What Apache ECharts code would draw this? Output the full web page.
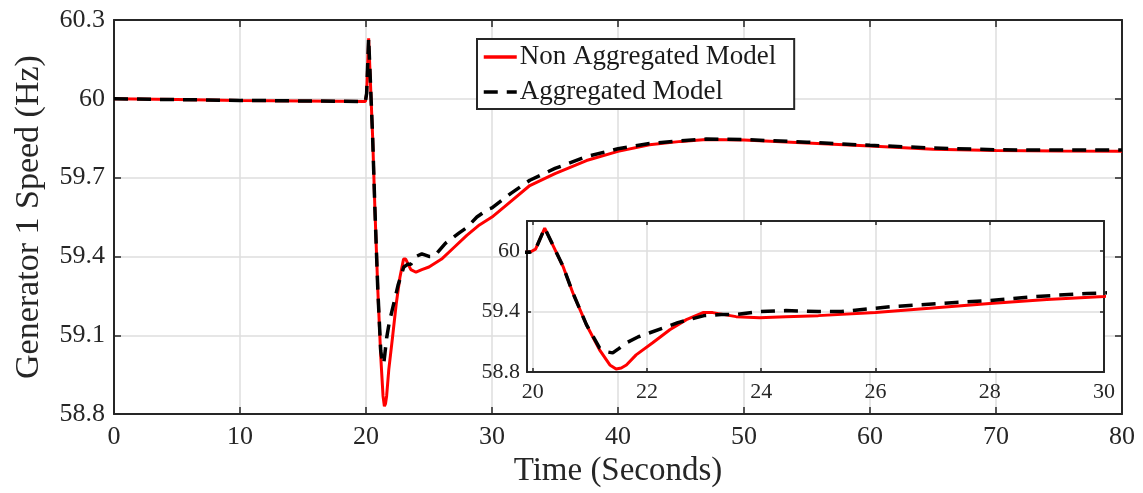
<!DOCTYPE html>
<html>
<head>
<meta charset="utf-8">
<script src="https://cdn.jsdelivr.net/npm/echarts@6/dist/echarts.min.js"></script>
<style>html,body{margin:0;padding:0;background:#fff}#c{width:1143px;height:493px}</style>
</head>
<body>
<div id="c"></div>
<script>
// Non Aggregated Model (red)
const tNon = [0, 5, 10, 15, 19.95, 20.05, 20.21, 20.53, 20.7, 20.94, 21.17, 21.35, 21.46, 21.55, 21.64, 21.81, 22.1, 22.4, 22.69, 22.98, 23.15, 23.56, 23.97, 24.43, 25, 26, 27, 28, 29, 30, 31.5, 33, 35, 37.5, 40, 42.5, 45, 47, 50, 55, 60, 65, 70, 75, 80];
const vNon = [60.0, 59.997, 59.994, 59.992, 59.99, 60.02, 60.23, 59.85, 59.59, 59.27, 59.02, 58.87, 58.83, 58.84, 58.87, 58.97, 59.09, 59.22, 59.32, 59.39, 59.39, 59.35, 59.34, 59.35, 59.36, 59.39, 59.435, 59.48, 59.52, 59.55, 59.61, 59.67, 59.715, 59.765, 59.80, 59.825, 59.838, 59.845, 59.843, 59.832, 59.82, 59.808, 59.803, 59.801, 59.80];
// Aggregated Model (black dashed)
const tAgg = [0, 5, 10, 15, 19.95, 20.05, 20.21, 20.53, 20.7, 20.94, 21.17, 21.3, 21.4, 21.5, 21.64, 21.85, 22.05, 22.3, 22.54, 22.8, 23.0, 23.3, 23.56, 23.97, 24.43, 25, 25.4, 26.3, 27.4, 28, 28.8, 29.7, 30, 31.5, 33, 35, 37.5, 40, 42.5, 45, 47, 50, 55, 60, 65, 70, 75, 80];
const vAgg = [60.0, 59.997, 59.994, 59.992, 59.99, 60.02, 60.23, 59.85, 59.59, 59.27, 59.04, 59.0, 58.99, 59.03, 59.09, 59.15, 59.19, 59.24, 59.29, 59.33, 59.36, 59.37, 59.37, 59.40, 59.41, 59.40, 59.40, 59.45, 59.49, 59.51, 59.55, 59.58, 59.585, 59.64, 59.69, 59.735, 59.78, 59.81, 59.83, 59.84, 59.847, 59.845, 59.835, 59.823, 59.813, 59.806, 59.805, 59.805];
// Inset tick labels
const insetXTicks = [20, 22, 24, 26, 28, 30];
const insetYTicks = [58.8, 59.4, 60];

const FONT = 'Liberation Serif';
const AX = '#262626';
const GRIDC = '#dedede';
const nonPairs = tNon.map((t, i) => [t, vNon[i]]);
const aggPairs = tAgg.map((t, i) => [t, vAgg[i]]);
const fmt = v => String(parseFloat(Number(v).toFixed(1)));

function axisBase(extra) {
  return Object.assign({
    type: 'value',
    axisLine: { show: true, onZero: false, lineStyle: { color: AX, width: 2 } },
    axisTick: { show: true, inside: true, length: 7, lineStyle: { color: AX, width: 1.5 } },
    axisLabel: { show: false },
    splitLine: { show: false }
  }, extra);
}

const chart = echarts.init(document.getElementById('c'), null, { renderer: 'canvas' });
chart.setOption({
  animation: false,
  backgroundColor: '#fff',
  grid: [
    { left: 114, right: 21, top: 20, bottom: 75, show: true, backgroundColor: '#fff', borderWidth: 0, z: 0 },
    { left: 527, right: 39, top: 221, bottom: 121, show: true, backgroundColor: '#fff', borderWidth: 0, z: 5 }
  ],
  legend: {
    data: ['Non Aggregated Model', 'Aggregated Model'],
    orient: 'vertical',
    left: 477, top: 39,
    padding: [3, 18, 2, 5],
    itemGap: 5,
    itemWidth: 33, itemHeight: 14,
    itemStyle: { opacity: 0 },
    lineStyle: { width: 3.5 },
    backgroundColor: '#fff',
    borderColor: AX, borderWidth: 2, borderRadius: 0,
    textStyle: { fontFamily: FONT, fontSize: 27, color: '#1a1a1a', lineHeight: 30, padding: [0, 0, 0, -2] },
    z: 20
  },
  xAxis: [
    axisBase({
      gridIndex: 0, position: 'bottom', min: 0, max: 80, interval: 10,
      axisLabel: { show: true, fontFamily: FONT, fontSize: 26, color: AX, margin: 10 },
      splitLine: { show: true, lineStyle: { color: GRIDC, width: 1.5 } },
      name: 'Time (Seconds)', nameLocation: 'middle', nameGap: 37,
      nameTextStyle: { fontFamily: FONT, fontSize: 33, color: AX }
    }),
    axisBase({ gridIndex: 0, position: 'top', min: 0, max: 80, interval: 10 }),
    axisBase({
      gridIndex: 1, position: 'bottom', min: 19.9, max: 30, z: 6,
      axisTick: { show: true, inside: true, length: 4, customValues: insetXTicks, lineStyle: { color: AX, width: 1.5 } },
      axisLabel: { show: true, customValues: insetXTicks, fontFamily: FONT, fontSize: 22, color: AX, margin: 9 },
      splitLine: { show: true, lineStyle: { color: GRIDC, width: 1.5 } }
    }),
    axisBase({
      gridIndex: 1, position: 'top', min: 19.9, max: 30, z: 6,
      axisTick: { show: true, inside: true, length: 4, customValues: insetXTicks, lineStyle: { color: AX, width: 1.5 } }
    })
  ],
  yAxis: [
    axisBase({
      gridIndex: 0, position: 'left', min: 58.8, max: 60.3, interval: 0.3,
      axisLabel: { show: true, fontFamily: FONT, fontSize: 26, color: AX, margin: 9, formatter: fmt },
      splitLine: { show: true, lineStyle: { color: GRIDC, width: 1.5 } },
      name: 'Generator 1 Speed (Hz)', nameLocation: 'middle', nameGap: 68, nameRotate: 90,
      nameTextStyle: { fontFamily: FONT, fontSize: 34, color: AX }
    }),
    axisBase({ gridIndex: 0, position: 'right', min: 58.8, max: 60.3, interval: 0.3 }),
    axisBase({
      gridIndex: 1, position: 'left', min: 58.8, max: 60.3, z: 6,
      axisTick: { show: true, inside: true, length: 4, customValues: insetYTicks, lineStyle: { color: AX, width: 1.5 } },
      axisLabel: { show: true, customValues: insetYTicks, fontFamily: FONT, fontSize: 22, color: AX, margin: 7, formatter: fmt },
      splitLine: { show: true, lineStyle: { color: GRIDC, width: 1.5 } }
    }),
    axisBase({
      gridIndex: 1, position: 'right', min: 58.8, max: 60.3, z: 6,
      axisTick: { show: true, inside: true, length: 4, customValues: insetYTicks, lineStyle: { color: AX, width: 1.5 } }
    })
  ],
  series: [
    { name: 'Non Aggregated Model', type: 'line', xAxisIndex: 0, yAxisIndex: 0, data: nonPairs, symbol: 'none',
      lineStyle: { color: '#ff0000', width: 3 }, itemStyle: { color: '#ff0000' }, z: 2 },
    { name: 'Aggregated Model', type: 'line', xAxisIndex: 0, yAxisIndex: 0, data: aggPairs, symbol: 'none',
      lineStyle: { color: '#000', width: 3.5, type: [14, 9] }, itemStyle: { color: '#000' }, z: 3 },
    { name: 'Non Aggregated Model', type: 'line', xAxisIndex: 2, yAxisIndex: 2, data: nonPairs, symbol: 'none',
      lineStyle: { color: '#ff0000', width: 3 }, itemStyle: { color: '#ff0000' }, z: 7 },
    { name: 'Aggregated Model', type: 'line', xAxisIndex: 2, yAxisIndex: 2, data: aggPairs, symbol: 'none',
      lineStyle: { color: '#000', width: 3.5, type: [14, 9] }, itemStyle: { color: '#000' }, z: 8 }
  ]
});
</script>
</body>
</html>
